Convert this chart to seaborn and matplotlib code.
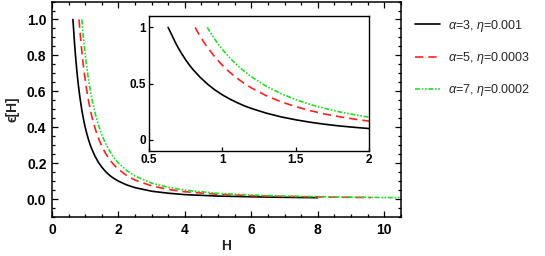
import numpy as np
import pandas as pd
import matplotlib
matplotlib.use("Agg")
import matplotlib.pyplot as plt
from matplotlib.ticker import MultipleLocator
import seaborn as sns

# values
h_black = [0.63, 0.65, 0.68, 0.7, 0.72, 0.75, 0.78, 0.8, 0.85, 0.9, 0.95, 1.0,
           1.05, 1.1, 1.15, 1.2, 1.3, 1.4, 1.5, 1.6, 1.7, 1.8, 1.9, 2.0, 2.25,
           2.5, 3.0, 3.5, 4.0, 5.0, 6.0, 7.0, 8.0]
eps_black = [1.0, 0.947, 0.865, 0.816, 0.772, 0.711, 0.657, 0.625, 0.554,
             0.494, 0.443, 0.40, 0.363, 0.331, 0.302, 0.278, 0.237, 0.204,
             0.178, 0.156, 0.138, 0.123, 0.111, 0.10, 0.079, 0.064, 0.044,
             0.033, 0.025, 0.017, 0.013, 0.010, 0.008]

h_red = [0.815, 0.83, 0.85, 0.88, 0.9, 0.95, 1.0, 1.05, 1.1, 1.15, 1.2, 1.3,
         1.4, 1.5, 1.6, 1.7, 1.8, 1.9, 2.0, 2.25, 2.5, 3.0, 3.5, 4.0, 5.0, 6.0,
         7.0, 8.0, 9.0, 9.6]
eps_red = [1.0, 0.962, 0.918, 0.856, 0.819, 0.735, 0.663, 0.601, 0.548,
           0.501, 0.460, 0.392, 0.338, 0.295, 0.259, 0.229, 0.205, 0.184,
           0.166, 0.131, 0.106, 0.074, 0.054, 0.041, 0.027, 0.019, 0.015,
           0.012, 0.010, 0.009]

h_green = [0.897, 0.92, 0.95, 0.98, 1.0, 1.05, 1.1, 1.15, 1.2, 1.3, 1.4, 1.5,
           1.6, 1.7, 1.8, 1.9, 2.0, 2.25, 2.5, 3.0, 3.5, 4.0, 5.0, 6.0, 7.0,
           8.0, 9.0, 10.0, 10.5]
eps_green = [1.0, 0.951, 0.892, 0.838, 0.805, 0.730, 0.665, 0.609, 0.559,
             0.476, 0.411, 0.358, 0.314, 0.279, 0.248, 0.223, 0.201, 0.159,
             0.129, 0.089, 0.066, 0.050, 0.032, 0.023, 0.017, 0.014, 0.011,
             0.009, 0.008]

labels = [r"$\alpha$=3, $\eta$=0.001",
          r"$\alpha$=5, $\eta$=0.0003",
          r"$\alpha$=7, $\eta$=0.0002"]

sns.set_theme(style="ticks")
plt.rcParams["font.family"] = ["Liberation Sans", "DejaVu Sans"]
plt.rcParams["mathtext.fontset"] = "custom"
plt.rcParams["mathtext.it"] = "Liberation Sans:italic"
plt.rcParams["mathtext.rm"] = "Liberation Sans"

series = [
    (h_black, eps_black, "black", "-"),
    (h_red, eps_red, "#ff2020", (0, (5, 3))),
    (h_green, eps_green, "#22dd22", (0, (3, 1, 1, 1, 1, 1))),
]

fig = plt.figure(figsize=(5.45, 2.56), dpi=100)
ax = fig.add_axes([0.0954, 0.152, 0.640, 0.842])
ins = fig.add_axes([0.2734, 0.410, 0.4037, 0.527])

for target in (ax, ins):
    for (hx, ey, col, ls), lab in zip(series, labels):
        df = pd.DataFrame({"H": hx, "eps": ey})
        sns.lineplot(data=df, x="H", y="eps", ax=target, color=col,
                     linestyle=ls, linewidth=1.2, estimator=None, sort=False,
                     label=lab if target is ax else None, legend=False)

# main axes
ax.set_xlim(0, 10.5)
ax.set_ylim(-0.1, 1.1)
ax.xaxis.set_major_locator(MultipleLocator(2))
ax.xaxis.set_minor_locator(MultipleLocator(0.5))
ax.yaxis.set_major_locator(MultipleLocator(0.2))
ax.yaxis.set_minor_locator(MultipleLocator(0.05))
ax.yaxis.set_major_formatter(matplotlib.ticker.FormatStrFormatter("%.1f"))
ax.tick_params(which="both", direction="in", top=True, right=True,
               labelsize=10, width=0.9, colors="black", pad=4)
ax.tick_params(which="major", length=4)
ax.tick_params(which="minor", length=2)
for lab in ax.get_xticklabels() + ax.get_yticklabels():
    lab.set_fontweight("bold")
ax.set_xlabel("H", fontsize=10, fontweight="bold", labelpad=2)
ax.set_ylabel("ϵ[H]", fontsize=10, fontweight="bold", labelpad=5)
for sp in ax.spines.values():
    sp.set_linewidth(1.1)
    sp.set_color("black")

# inset
ins.set_xlim(0.5, 2.0)
ins.set_ylim(-0.1, 1.1)
ins.set_xticks([0.5, 1, 1.5, 2])
ins.set_xticklabels(["0.5", "1", "1.5", "2"])
ins.set_yticks([0, 0.5, 1])
ins.set_yticklabels(["0", "0.5", "1"])
ins.tick_params(direction="in", length=3, labelsize=8.5, width=0.9,
                colors="black", pad=2)
for lab in ins.get_xticklabels() + ins.get_yticklabels():
    lab.set_fontweight("bold")
ins.set_xlabel("")
ins.set_ylabel("")
for sp in ins.spines.values():
    sp.set_linewidth(1.0)
    sp.set_color("black")

handles, hl = ax.get_legend_handles_labels()
fig.legend(handles, hl, loc="upper left", bbox_to_anchor=(0.74, 0.975),
           frameon=False, fontsize=9, handlelength=2.0, labelspacing=1.3,
           handletextpad=0.7)

fig.savefig("out.png", dpi=100)
